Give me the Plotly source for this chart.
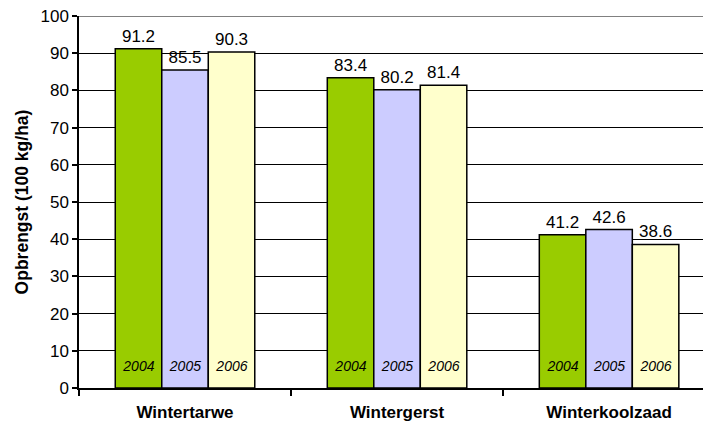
import plotly.graph_objects as go

categories = ["Wintertarwe", "Wintergerst", "Winterkoolzaad"]
years = ["2004", "2005", "2006"]
values = {
    "2004": [91.2, 83.4, 41.2],
    "2005": [85.5, 80.2, 42.6],
    "2006": [90.3, 81.4, 38.6],
}
colors = {"2004": "#99CC00", "2005": "#CCCCFF", "2006": "#FFFFCC"}
y_ticks = [0, 10, 20, 30, 40, 50, 60, 70, 80, 90, 100]
year_label_height = 12

FONT = "Liberation Sans, Arial, sans-serif"

fig = go.Figure()
for yr in years:
    fig.add_trace(go.Bar(
        x=categories, y=values[yr], name=yr, offsetgroup=yr,
        marker=dict(color=colors[yr], line=dict(color="black", width=1.5)),
        text=[f"{v:.1f}" for v in values[yr]], textposition="outside",
        textfont=dict(family=FONT, size=17, color="black"),
        constraintext="none", cliponaxis=False, showlegend=False,
    ))
for yr in years:
    fig.add_trace(go.Bar(
        x=categories, y=[year_label_height] * len(categories), offsetgroup=yr,
        marker=dict(color="rgba(0,0,0,0)", line=dict(width=0)),
        text=[yr] * len(categories), textposition="inside", insidetextanchor="middle",
        textangle=0,
        textfont=dict(family=FONT, size=14, color="black", style="italic"),
        constraintext="none", showlegend=False, hoverinfo="skip",
    ))

fig.update_layout(
    width=703, height=423,
    margin=dict(l=79, r=0, t=16, b=35),
    paper_bgcolor="white", plot_bgcolor="white",
    barmode="group", bargap=0.342, bargroupgap=0,
    font=dict(family=FONT, size=17, color="black"),
    showlegend=False,
)
fig.update_xaxes(
    range=[-0.5, 2.443], showline=True, linecolor="black", linewidth=1.5,
    ticks="outside", tickson="boundaries", ticklen=6, tickcolor="black", tickwidth=1.5,
    tickfont=dict(family=FONT, size=17, color="black", weight="bold"),
    ticklabelstandoff=8, showgrid=False, automargin=False,
)
fig.update_yaxes(
    range=[0, 100], tickvals=y_ticks, showline=True, linecolor="black", linewidth=1.5,
    ticks="outside", ticklen=5, tickcolor="black", tickwidth=1.5,
    showgrid=True, gridcolor="black", gridwidth=1.2, zeroline=False, automargin=False,
    tickfont=dict(family=FONT, size=17, color="black"),
    title=dict(text="Opbrengst (100 kg/ha)", standoff=7,
               font=dict(family=FONT, size=17.5, color="black", weight="bold")),
)
fig.add_shape(type="line", xref="paper", yref="y", x0=0, x1=1, y0=100, y1=100,
              line=dict(color="#808080", width=2))

fig.write_html("out.html")
